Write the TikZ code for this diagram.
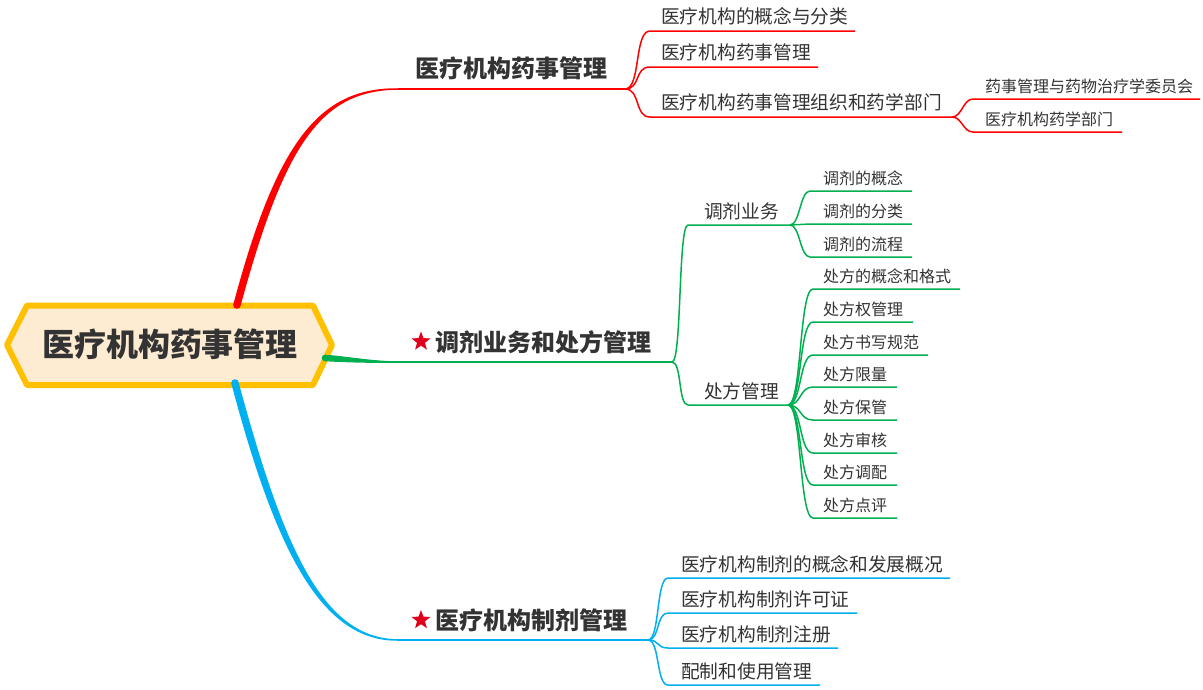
\documentclass[tikz,border=0pt]{standalone}
\usepackage{fontspec}
\setmainfont{Noto Sans CJK SC}
\usetikzlibrary{shapes.geometric,calc}
\definecolor{rb}{HTML}{FF0000}
\definecolor{gb}{HTML}{00B050}
\definecolor{bb}{HTML}{00B0F0}
\definecolor{rootline}{HTML}{FFC000}
\definecolor{rootfill}{HTML}{FDEBD2}
\definecolor{txt}{HTML}{333333}
\definecolor{starred}{HTML}{E0001B}
\begin{document}
\begin{tikzpicture}[x=1pt,y=-1pt,
  rootlbl/.style={inner sep=0,text=txt,font=\fontsize{32}{36}\selectfont\bfseries},
  mainlbl/.style={anchor=west,inner sep=0,text=txt,font=\fontsize{24}{28}\selectfont\bfseries},
  sublbl/.style={anchor=west,inner sep=0,text=txt,font=\fontsize{18.7}{22}\selectfont},
  leaflbl/.style={anchor=west,inner sep=0,text=txt,font=\fontsize{16}{19}\selectfont},
  conn/.style={line width=1.5pt},
  starmark/.style={star,star points=5,star point ratio=2.4,fill=starred,inner sep=0,minimum size=20pt}
]
\useasboundingbox (0,0) rectangle (1203,689);
\fill[white] (0,0) rectangle (1203,689);

% ---------- root ----------
\draw[line width=6pt,draw=rootline,fill=rootfill,line join=round]
  (7,345) -- (27,305.5) -- (313,305.5) -- (332,345) -- (313,385) -- (27,385) -- cycle;
\node[rootlbl] (root) at (170,344) {医疗机构药事管理};

% ---------- red branch ----------
\coordinate (R0) at (237,305);
\coordinate (R1) at (398,89);
\coordinate (rj) at (625,89);
\fill[rb] ($(R0)+(-3.8,0)$) .. controls (277,140) and (320,87.6) .. ($(R1)+(0,-0.75)$)
  -- ($(R1)+(0,0.75)$) .. controls (322,90.4) and (285,142) .. ($(R0)+(3.8,0)$) -- cycle;
\fill[rb] (R0) circle (3.8);
\draw[conn,rb] (R1) -- (rj);
\node[mainlbl] (rm) at (415,68) {医疗机构药事管理};
\foreach \i/\y/\xe/\t in {1/31/855/医疗机构的概念与分类,2/67/818/医疗机构药事管理,3/117/952/医疗机构药事管理组织和药学部门}{
  \coordinate (rs\i) at (650,\y);
  \coordinate (re\i) at (\xe,\y);
  \node[sublbl] (rt\i) at (661,\y-14.5) {\t};
  \draw[conn,rb] (rj) .. controls ($(rj)+(16,0)$) and ($(rs\i)+(-16,0)$) .. (rs\i) -- (re\i);
}
\foreach \i/\y/\xe/\t in {1/99/1200/药事管理与药物治疗学委员会,2/132/1122/医疗机构药学部门}{
  \coordinate (rgs\i) at (973,\y);
  \coordinate (rge\i) at (\xe,\y);
  \node[leaflbl] (rgt\i) at (985,\y-12.5) {\t};
  \draw[conn,rb] (re3) .. controls ($(re3)+(10,0)$) and ($(rgs\i)+(-10,0)$) .. (rgs\i) -- (rge\i);
}

% ---------- green branch ----------
\coordinate (G0) at (325,358);
\coordinate (G1) at (398,362);
\coordinate (gj) at (672,362);
\fill[gb] ($(G0)+(0,-3.3)$) .. controls (350,356.5) and (370,361) .. ($(G1)+(0,-0.75)$)
  -- ($(G1)+(0,0.75)$) .. controls (370,363.2) and (350,362.5) .. ($(G0)+(0,3.3)$) -- cycle;
\fill[gb] (G0) circle (3.3);
\draw[conn,gb] (G1) -- (gj);
\node[starmark] (gstar) at (421,341.5) {};
\node[mainlbl] (gm) at (435,342) {调剂业务和处方管理};
% level 2
\coordinate (ts) at (688,225);
\coordinate (tj) at (790,225);
\coordinate (ps) at (688,405);
\coordinate (pj) at (788,405);
\node[sublbl] (tt) at (704,211) {调剂业务};
\node[sublbl] (pt) at (704,391) {处方管理};
\draw[conn,gb] (gj) .. controls ($(gj)+(10,0)$) and ($(ts)+(-10,0)$) .. (ts) -- (tj);
\draw[conn,gb] (gj) .. controls ($(gj)+(10,0)$) and ($(ps)+(-10,0)$) .. (ps) -- (pj);
% dispensing children
\foreach \i/\y/\t in {1/191/调剂的概念,2/224/调剂的分类,3/257/调剂的流程}{
  \coordinate (tcs\i) at (810,\y);
  \coordinate (tce\i) at (912,\y);
  \node[leaflbl] (tct\i) at (823,\y-13) {\t};
  \draw[conn,gb] (tj) .. controls ($(tj)+(10,0)$) and ($(tcs\i)+(-10,0)$) .. (tcs\i) -- (tce\i);
}
% prescription children
\foreach \i/\y/\xe/\t in {1/289/960/处方的概念和格式,2/322/913/处方权管理,3/355/928/处方书写规范,4/387/897/处方限量,5/420/897/处方保管,6/453/897/处方审核,7/485/897/处方调配,8/518/897/处方点评}{
  \coordinate (pcs\i) at (813,\y);
  \coordinate (pce\i) at (\xe,\y);
  \node[leaflbl] (pct\i) at (823,\y-13) {\t};
  \draw[conn,gb] (pj) .. controls ($(pj)+(14,0)$) and ($(pcs\i)+(-14,0)$) .. (pcs\i) -- (pce\i);
}

% ---------- blue branch ----------
\coordinate (B0) at (235,383);
\coordinate (B1) at (398,640);
\coordinate (bj) at (648,640);
\fill[bb] ($(B0)+(-3.8,0)$) .. controls (275,548) and (320,641.4) .. ($(B1)+(0,0.75)$)
  -- ($(B1)+(0,-0.75)$) .. controls (322,638.6) and (283,546) .. ($(B0)+(3.8,0)$) -- cycle;
\fill[bb] (B0) circle (3.8);
\draw[conn,bb] (B1) -- (bj);
\node[starmark] (bstar) at (421,620) {};
\node[mainlbl] (bm) at (435,620) {医疗机构制剂管理};
\foreach \i/\y/\xe/\t in {1/578/950/医疗机构制剂的概念和发展概况,2/613/857/医疗机构制剂许可证,3/648/838/医疗机构制剂注册,4/685/820/配制和使用管理}{
  \coordinate (bs\i) at (668,\y);
  \coordinate (be\i) at (\xe,\y);
  \node[sublbl] (bt\i) at (681,\y-13.5) {\t};
  \draw[conn,bb] (bj) .. controls ($(bj)+(12,0)$) and ($(bs\i)+(-12,0)$) .. (bs\i) -- (be\i);
}
\end{tikzpicture}
\end{document}
